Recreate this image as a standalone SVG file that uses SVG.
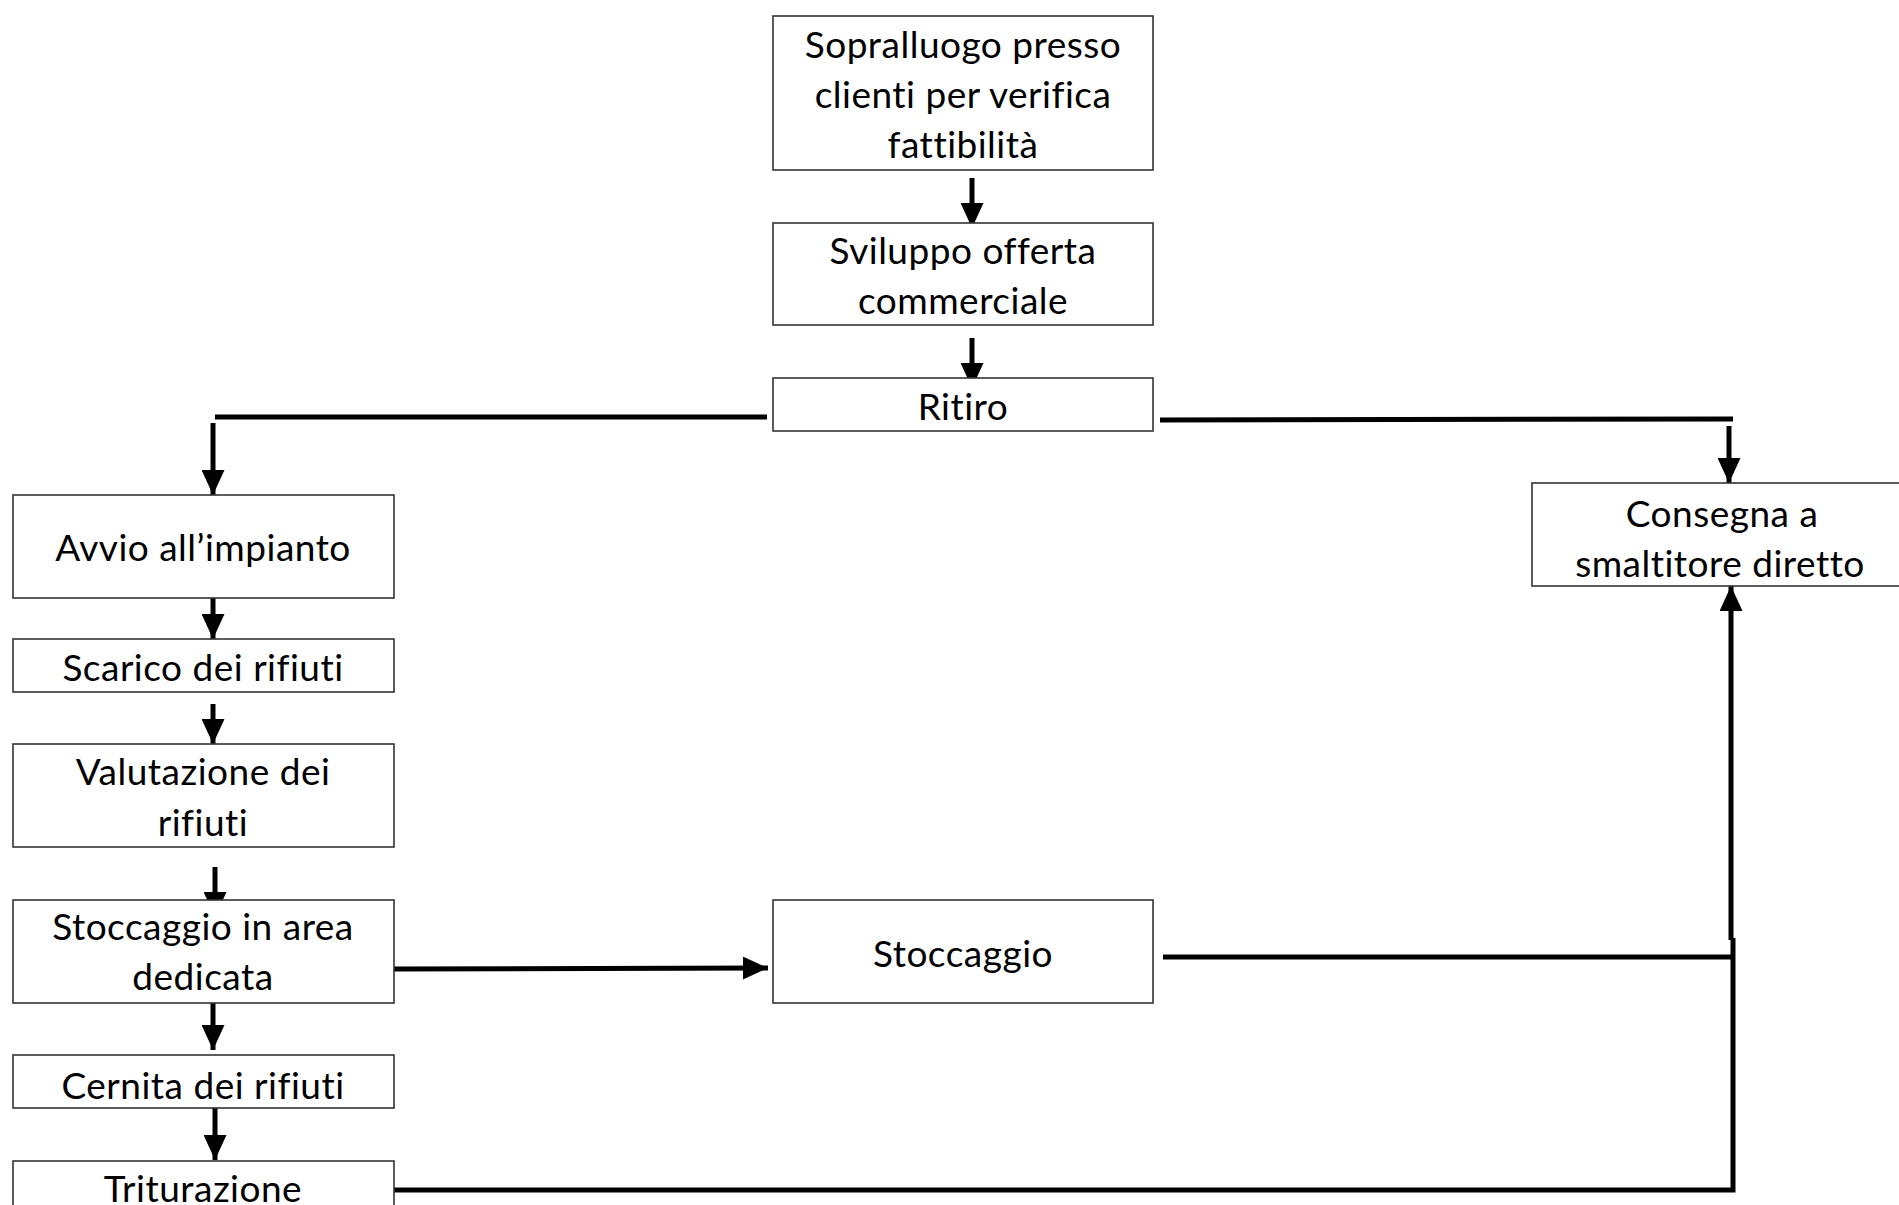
<svg xmlns="http://www.w3.org/2000/svg" width="1899" height="1205" viewBox="0 0 1899 1205">
<defs>
<style>
.box{fill:#fff;stroke:#333;stroke-width:1.6}
.t{font-family:Lato,"Liberation Sans",sans-serif;font-size:37px;letter-spacing:0.5px;font-variant-ligatures:none;fill:#000;text-anchor:middle}
.c{fill:none;stroke:#000;stroke-width:5}
</style>
<marker id="ah" markerUnits="userSpaceOnUse" markerWidth="25" markerHeight="23" refX="25" refY="11.5" orient="auto">
<path d="M0,0 L25,11.5 L0,23 z" fill="#000"/>
</marker>
</defs>
<rect width="1899" height="1205" fill="#fff"/>
<g id="connectors">
<path class="c" d="M972,178 L972,228" marker-end="url(#ah)"/>
<path class="c" d="M972,338 L972,388" marker-end="url(#ah)"/>
<path class="c" d="M767,417 L215,417"/>
<path class="c" d="M213,423 L213,495" marker-end="url(#ah)"/>
<path class="c" d="M1160,420 L1733,419"/>
<path class="c" d="M1729,426 L1729,483" marker-end="url(#ah)"/>
<path class="c" d="M213,598 L213,639" marker-end="url(#ah)"/>
<path class="c" d="M213,704 L213,744" marker-end="url(#ah)"/>
<path class="c" d="M215,867 L215,917" marker-end="url(#ah)"/>
<path class="c" d="M213,1003 L213,1050" marker-end="url(#ah)"/>
<path class="c" d="M215,1108 L215,1160" marker-end="url(#ah)"/>
<path class="c" d="M394,969 L768,968" marker-end="url(#ah)"/>
<path class="c" d="M1163,957 L1732,957"/>
<path class="c" d="M394,1190 L1733,1190 L1733,938"/>
<path class="c" d="M1731,940 L1731,586" marker-end="url(#ah)"/>
</g>
<g id="n1"><rect class="box" x="773" y="16" width="380" height="154"/>
<text class="t" x="963" y="58">Sopralluogo presso</text><text class="t" x="963" y="108">clienti per verifica</text><text class="t" x="963" y="158">fattibilità</text></g>
<g id="n2"><rect class="box" x="773" y="223" width="380" height="102"/>
<text class="t" x="963" y="264">Sviluppo offerta</text><text class="t" x="963" y="314">commerciale</text></g>
<g id="n3"><rect class="box" x="773" y="378" width="380" height="53"/>
<text class="t" x="963" y="420">Ritiro</text></g>
<g id="n4"><rect class="box" x="13" y="495" width="381" height="103"/>
<text class="t" x="203" y="561">Avvio all’impianto</text></g>
<g id="n5"><rect class="box" x="13" y="639" width="381" height="53"/>
<text class="t" x="203" y="681">Scarico dei rifiuti</text></g>
<g id="n6"><rect class="box" x="13" y="744" width="381" height="103"/>
<text class="t" x="203" y="785">Valutazione dei</text><text class="t" x="203" y="836">rifiuti</text></g>
<g id="n7"><rect class="box" x="13" y="900" width="381" height="103"/>
<text class="t" x="203" y="940">Stoccaggio in area</text><text class="t" x="203" y="990">dedicata</text></g>
<g id="n8"><rect class="box" x="13" y="1055" width="381" height="53"/>
<text class="t" x="203" y="1099">Cernita dei rifiuti</text></g>
<g id="n9"><rect class="box" x="13" y="1161" width="381" height="60"/>
<text class="t" x="203" y="1202">Triturazione</text></g>
<g id="n10"><rect class="box" x="773" y="900" width="380" height="103"/>
<text class="t" x="963" y="967">Stoccaggio</text></g>
<g id="n11"><rect class="box" x="1532" y="483" width="380" height="103"/>
<text class="t" x="1722" y="527">Consegna a</text><text class="t" x="1720" y="577">smaltitore diretto</text></g>
</svg>
